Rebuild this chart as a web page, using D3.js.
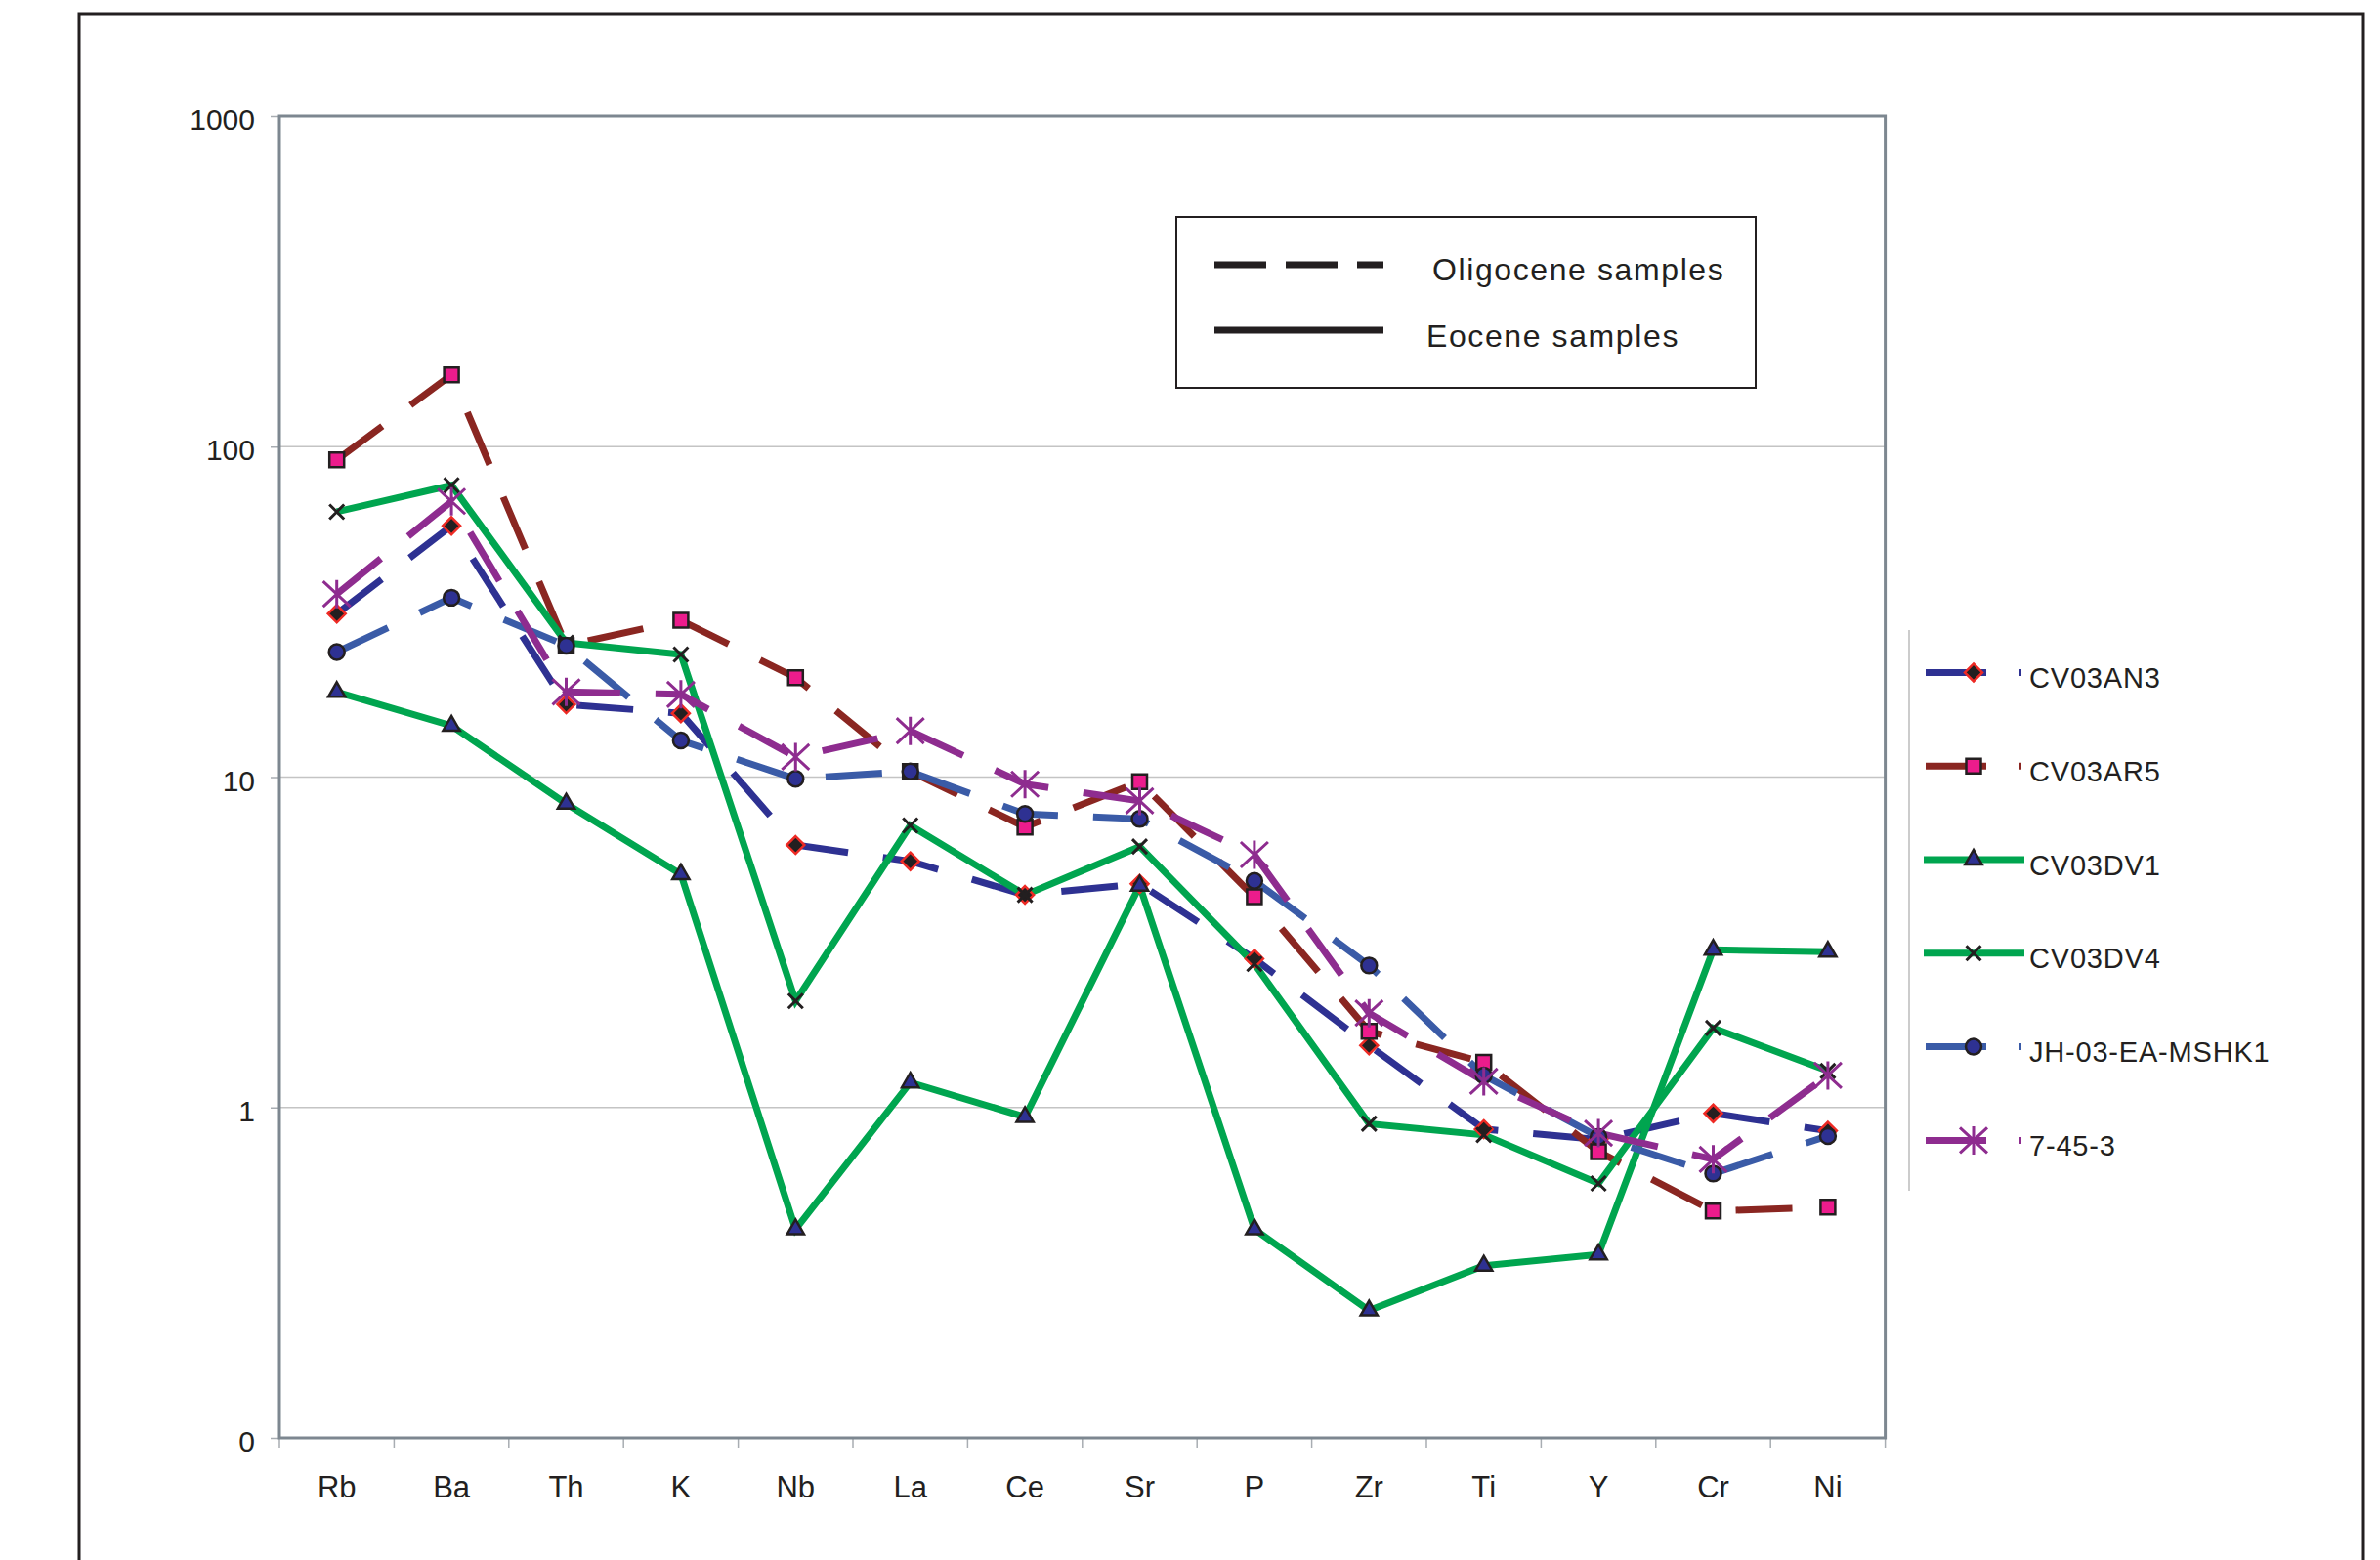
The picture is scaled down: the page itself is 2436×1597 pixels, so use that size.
<!DOCTYPE html>
<html>
<head>
<meta charset="utf-8">
<script src="https://cdn.jsdelivr.net/npm/d3@7"></script>
<style>
  body { margin: 0; background: #ffffff; }
  text { font-family: "Liberation Sans", Arial, sans-serif; fill: #231f20; }
</style>
</head>
<body>
<div id="spider-vis"></div>
<script>
// Spider diagram (log scale)

const WIDTH = 2436
const HEIGHT = 1597

const ELEMENTS = ["Rb", "Ba", "Th", "K", "Nb", "La", "Ce", "Sr", "P", "Zr", "Ti", "Y", "Cr", "Ni"]

const CV03AN3 = [31.2, 57.6, 16.6, 15.6, 6.23, 5.56, 4.40, 4.75, 2.82, 1.54, 0.86, 0.80, 0.96, 0.85]
const CV03AR5 = [91.2, 165, 25.0, 29.8, 20.0, 10.4, 7.06, 9.68, 4.34, 1.70, 1.37, 0.735, 0.486, 0.499]
const CV03DV1 = [18.1, 14.3, 8.31, 5.08, 0.428, 1.19, 0.936, 4.69, 0.428, 0.243, 0.332, 0.359, 3.00, 2.96]
const CV03DV4 = [63.5, 76.4, 25.5, 23.5, 2.10, 7.14, 4.40, 6.16, 2.72, 0.893, 0.826, 0.589, 1.74, 1.29]
const JH03EAMSHK1 = [23.9, 34.9, 25.0, 12.9, 9.88, 10.4, 7.73, 7.47, 4.85, 2.69, 1.25, 0.815, 0.631, 0.82]
const S7453 = [35.8, 68.3, 18.1, 17.8, 11.5, 13.8, 9.52, 8.47, 5.82, 1.93, 1.20, 0.836, 0.697, 1.25]

const SERIES_NAMES = ["CV03AN3", "CV03AR5", "CV03DV1", "CV03DV4", "JH-03-EA-MSHK1", "7-45-3"]
const SERIES_VALUES = [CV03AN3, CV03AR5, CV03DV1, CV03DV4, JH03EAMSHK1, S7453]

const YTICKS = [0.1, 1, 10, 100, 1000]
const YTICK_LABELS = ["0", "1", "10", "100", "1000"]

const AGE_LABELS = ["Oligocene samples", "Eocene samples"]

// estilos
const DARK = "#231f20"
const NAVY = "#2e3192"
const LINE_COLORS = [NAVY, "#8a2621", "#00a54f", "#00a54f", "#3a5ba7", "#8e2c8f"]
const DASHED = [true, true, false, false, true, true]
const MARKERS = ["diamond", "square", "triangle", "times", "circle", "star"]
const DASH = "58,36"

const PLOT = { left: 286, right: 1929.6, top: 119, bottom: 1472 }

const SVG = d3.select("#spider-vis")
  .append("svg")
  .attr("width", WIDTH)
  .attr("height", HEIGHT)

// marco exterior
SVG.append("rect")
  .attr("x", 81)
  .attr("y", 14)
  .attr("width", 2338)
  .attr("height", 1640)
  .attr("fill", "none")
  .attr("stroke", DARK)
  .attr("stroke-width", 3)

const xScale = d3.scaleBand()
  .domain(ELEMENTS)
  .range([PLOT.left, PLOT.right])

const xCenter = d => xScale(d) + xScale.bandwidth() / 2

const yScale = d3.scaleLog()
  .domain([0.1, 1000])
  .range([PLOT.bottom, PLOT.top])

// Grid
SVG.append("g")
  .selectAll("line")
  .data(YTICKS.slice(1, -1))
  .join("line")
  .attr("x1", PLOT.left)
  .attr("x2", PLOT.right)
  .attr("y1", d => yScale(d))
  .attr("y2", d => yScale(d))
  .attr("stroke", "#c4c4c4")
  .attr("stroke-width", 1.5)

// Ejes
const yAxis = d3.axisLeft(yScale)
  .tickValues(YTICKS)
  .tickFormat((d, i) => YTICK_LABELS[i])
  .tickSize(9)
  .tickPadding(16)

const yAxisG = SVG.append("g")
  .attr("transform", `translate(${PLOT.left}, 0)`)
  .call(yAxis)
yAxisG.select(".domain").remove()
yAxisG.selectAll("line").attr("stroke", "#a8adb2").attr("stroke-width", 1.5)
yAxisG.selectAll("text")
  .attr("font-size", 30)
  .attr("dy", "0.45em")
  .attr("fill", DARK)
  .style("font-family", "'Liberation Sans', Arial, sans-serif")

// ticks del eje x en los limites de cada banda
SVG.append("g")
  .selectAll("line")
  .data(d3.range(ELEMENTS.length + 1))
  .join("line")
  .attr("x1", i => PLOT.left + i * xScale.step())
  .attr("x2", i => PLOT.left + i * xScale.step())
  .attr("y1", PLOT.bottom)
  .attr("y2", PLOT.bottom + 10)
  .attr("stroke", "#a8adb2")
  .attr("stroke-width", 1.5)

SVG.append("g")
  .selectAll("text")
  .data(ELEMENTS)
  .join("text")
  .text(d => d)
  .attr("x", xCenter)
  .attr("y", PLOT.bottom + 61)
  .attr("text-anchor", "middle")
  .attr("font-size", 31)

// area del grafico
SVG.append("rect")
  .attr("x", PLOT.left)
  .attr("y", PLOT.top)
  .attr("width", PLOT.right - PLOT.left)
  .attr("height", PLOT.bottom - PLOT.top)
  .attr("fill", "none")
  .attr("stroke", "#7d8790")
  .attr("stroke-width", 3)

// Marcadores
function markerPath(kind) {
  if (kind === "square") return "M-7.5,-7.5H7.5V7.5H-7.5Z"
  if (kind === "diamond") return "M0,-9L9,0L0,9L-9,0Z"
  if (kind === "triangle") return d3.symbol(d3.symbolTriangle, 130)()
  if (kind === "circle") return d3.symbol(d3.symbolCircle, 200)()
  if (kind === "times") return "M-7.5,-7.5L7.5,7.5M-7.5,7.5L7.5,-7.5"
  return "M0,-14.5V14.5M-14,-13L14,13M-14,13L14,-13"
}

function styleMarker(sel, kind) {
  if (kind === "square") {
    sel.attr("fill", "#ec1c8c").attr("stroke", DARK).attr("stroke-width", 2.5)
  } else if (kind === "diamond") {
    sel.attr("fill", DARK).attr("stroke", "#ee2a24").attr("stroke-width", 2.5)
  } else if (kind === "triangle" || kind === "circle") {
    sel.attr("fill", NAVY).attr("stroke", DARK).attr("stroke-width", 2.5)
  } else if (kind === "times") {
    sel.attr("fill", "none").attr("stroke", DARK).attr("stroke-width", 3)
  } else {
    sel.attr("fill", "none").attr("stroke", "#8e2c8f").attr("stroke-width", 3)
  }
}

// Lineas
const line = d3.line()
  .x((d, i) => xCenter(ELEMENTS[i]))
  .y(d => yScale(d))

SVG.append("g")
  .selectAll("path.series-line")
  .data(SERIES_VALUES)
  .join("path")
  .attr("class", "series-line")
  .attr("d", d => line(d))
  .attr("fill", "none")
  .attr("stroke", (d, i) => LINE_COLORS[i])
  .attr("stroke-width", 7)
  .attr("stroke-dasharray", (d, i) => DASHED[i] ? DASH : null)

SERIES_VALUES.forEach((values, s) => {
  const g = SVG.append("g").attr("class", "series-markers")
  g.selectAll("path")
    .data(values)
    .join("path")
    .attr("d", markerPath(MARKERS[s]))
    .attr("transform", (d, i) => `translate(${xCenter(ELEMENTS[i])},${yScale(d)})`)
    .call(sel => styleMarker(sel, MARKERS[s]))
})

// Leyenda de edades
const AGE = SVG.append("g")
AGE.append("rect")
  .attr("x", 1204)
  .attr("y", 222)
  .attr("width", 593)
  .attr("height", 175)
  .attr("fill", "#ffffff")
  .attr("stroke", DARK)
  .attr("stroke-width", 2)

AGE.selectAll("line")
  .data(AGE_LABELS)
  .join("line")
  .attr("x1", 1243)
  .attr("x2", 1416)
  .attr("y1", (d, i) => 271 + 67 * i)
  .attr("y2", (d, i) => 271 + 67 * i)
  .attr("stroke", DARK)
  .attr("stroke-width", 7)
  .attr("stroke-dasharray", (d, i) => i === 0 ? "53,20" : null)

AGE.selectAll("text")
  .data(AGE_LABELS)
  .join("text")
  .text(d => d)
  .attr("x", (d, i) => i === 0 ? 1466 : 1460)
  .attr("y", (d, i) => 287 + 68 * i)
  .attr("font-size", 32)
  .attr("letter-spacing", 1.6)

// Leyenda de muestras
const LEG = SVG.append("g")
LEG.append("line")
  .attr("x1", 1954)
  .attr("x2", 1954)
  .attr("y1", 645)
  .attr("y2", 1219)
  .attr("stroke", "#cccccc")
  .attr("stroke-width", 2)

const legendY = i => 688.4 + 95.8 * i

SERIES_NAMES.forEach((name, s) => {
  const g = LEG.append("g")
  g.append("line")
    .attr("x1", DASHED[s] ? 1971 : 1969)
    .attr("x2", DASHED[s] ? 2069 : 2072)
    .attr("y1", legendY(s))
    .attr("y2", legendY(s))
    .attr("stroke", LINE_COLORS[s])
    .attr("stroke-width", 7)
    .attr("stroke-dasharray", DASHED[s] ? "62,34" : null)
  g.append("path")
    .attr("d", markerPath(MARKERS[s]))
    .attr("transform", `translate(2020,${legendY(s)})`)
    .call(sel => styleMarker(sel, MARKERS[s]))
  g.append("text")
    .text(name)
    .attr("x", 2077)
    .attr("y", legendY(s) + 15.5)
    .attr("font-size", 29)
    .attr("letter-spacing", 0.8)
})
</script>
</body>
</html>
